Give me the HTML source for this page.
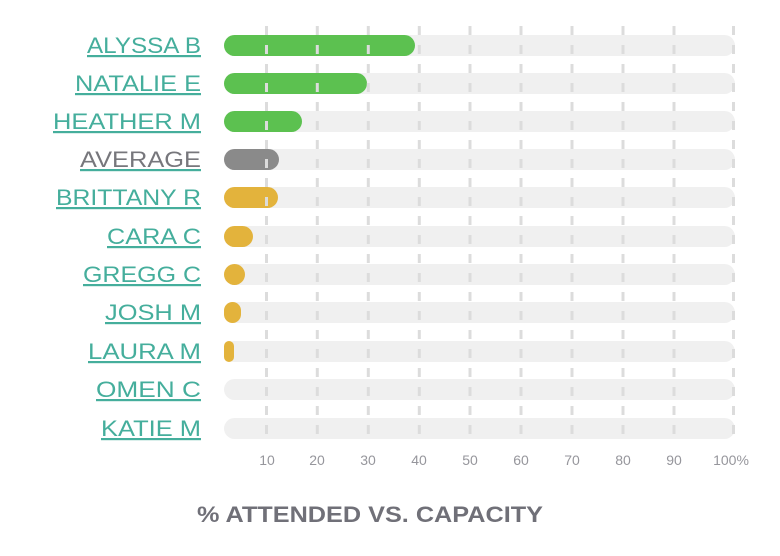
<!DOCTYPE html>
<html><head><style>
body{margin:0;background:#fff;}
svg{display:block;font-family:"Liberation Sans",sans-serif;}
</style></head><body>
<svg width="780" height="556" xmlns="http://www.w3.org/2000/svg">
<g fill="#f0f0f0">
<rect x="224" y="35" width="511" height="21" rx="10.5"/>
<rect x="224" y="73" width="511" height="21" rx="10.5"/>
<rect x="224" y="111" width="511" height="21" rx="10.5"/>
<rect x="224" y="149" width="511" height="21" rx="10.5"/>
<rect x="224" y="187" width="511" height="21" rx="10.5"/>
<rect x="224" y="226" width="511" height="21" rx="10.5"/>
<rect x="224" y="264" width="511" height="21" rx="10.5"/>
<rect x="224" y="302" width="511" height="21" rx="10.5"/>
<rect x="224" y="341" width="511" height="21" rx="10.5"/>
<rect x="224" y="379" width="511" height="21" rx="10.5"/>
<rect x="224" y="418" width="511" height="21" rx="10.5"/>
</g>
<rect x="224" y="35" width="191" height="21" rx="10.5" fill="#5cc150"/>
<rect x="224" y="73" width="143" height="21" rx="10.5" fill="#5cc150"/>
<rect x="224" y="111" width="78" height="21" rx="10.5" fill="#5cc150"/>
<rect x="224" y="149" width="55" height="21" rx="10.5" fill="#8a8a8a"/>
<rect x="224" y="187" width="54" height="21" rx="10.5" fill="#e3b33c"/>
<rect x="224" y="226" width="29" height="21" rx="10.5" fill="#e3b33c"/>
<rect x="224" y="264" width="21" height="21" rx="10.5" fill="#e3b33c"/>
<rect x="224" y="302" width="17" height="21" rx="8.5" fill="#e3b33c"/>
<rect x="224" y="341" width="10" height="21" rx="5" fill="#e3b33c"/>
<g stroke="#dcdcdc" stroke-width="3" stroke-dasharray="9 10">
<line x1="266.5" y1="26" x2="266.5" y2="440"/>
<line x1="317.3" y1="26" x2="317.3" y2="440"/>
<line x1="368.3" y1="26" x2="368.3" y2="440"/>
<line x1="419.3" y1="26" x2="419.3" y2="440"/>
<line x1="470" y1="26" x2="470" y2="440"/>
<line x1="521" y1="26" x2="521" y2="440"/>
<line x1="572" y1="26" x2="572" y2="440"/>
<line x1="623" y1="26" x2="623" y2="440"/>
<line x1="674" y1="26" x2="674" y2="440"/>
<line x1="733.5" y1="26" x2="733.5" y2="440"/>
</g>
<g font-size="22" text-anchor="end" fill="#45ae9c" text-decoration="underline" lengthAdjust="spacingAndGlyphs">
<text x="201" y="53" textLength="114" lengthAdjust="spacingAndGlyphs">ALYSSA B</text>
<text x="201" y="91" textLength="126" lengthAdjust="spacingAndGlyphs">NATALIE E</text>
<text x="201" y="129" textLength="148" lengthAdjust="spacingAndGlyphs">HEATHER M</text>
<text x="201" y="167" fill="#77777c" text-decoration="none" textLength="121" lengthAdjust="spacingAndGlyphs">AVERAGE</text>
<text x="201" y="205" textLength="145" lengthAdjust="spacingAndGlyphs">BRITTANY R</text>
<text x="201" y="244" textLength="94" lengthAdjust="spacingAndGlyphs">CARA C</text>
<text x="201" y="282" textLength="118" lengthAdjust="spacingAndGlyphs">GREGG C</text>
<text x="201" y="320" textLength="96" lengthAdjust="spacingAndGlyphs">JOSH M</text>
<text x="201" y="359" textLength="113" lengthAdjust="spacingAndGlyphs">LAURA M</text>
<text x="201" y="397" textLength="105" lengthAdjust="spacingAndGlyphs">OMEN C</text>
<text x="201" y="436" textLength="100" lengthAdjust="spacingAndGlyphs">KATIE M</text>
</g>
<g font-size="14" fill="#96969c" text-anchor="middle">
<text x="267" y="465">10</text><text x="317" y="465">20</text><text x="368" y="465">30</text>
<text x="419" y="465">40</text><text x="470" y="465">50</text><text x="521" y="465">60</text>
<text x="572" y="465">70</text><text x="623" y="465">80</text><text x="674" y="465">90</text>
<text x="731" y="465">100%</text>
</g>
<text x="370" y="522" font-size="22" font-weight="bold" fill="#707078" text-anchor="middle" textLength="346" lengthAdjust="spacingAndGlyphs">% ATTENDED VS. CAPACITY</text>
</svg>
</body></html>
